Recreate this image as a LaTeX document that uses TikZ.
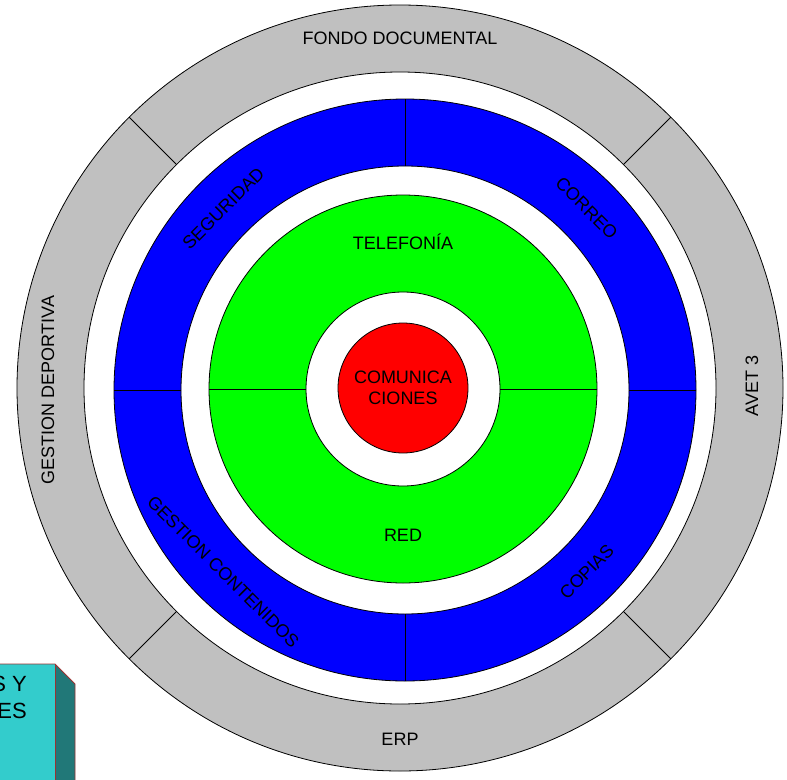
\documentclass[tikz,border=0pt]{standalone}
\usepackage{fontspec}
\setmainfont{Liberation Sans}
\usetikzlibrary{calc}
\definecolor{ringgray}{HTML}{C0C0C0}
\definecolor{ringblue}{HTML}{0000FF}
\definecolor{ringgreen}{HTML}{00FF00}
\definecolor{corered}{HTML}{FF0000}
\definecolor{boxfront}{HTML}{33CCCC}
\definecolor{boxside}{HTML}{217878}
\definecolor{boxedge}{HTML}{993333}
\tikzset{
  ringline/.style={draw=black, line width=0.8pt},
  lbl/.style={font=\fontsize{18}{21}\selectfont, inner sep=0pt, align=center},
}
\begin{document}
\begin{tikzpicture}[x=1pt,y=-1pt]
\useasboundingbox (0,0) rectangle (787,779);
\clip (0,0) rectangle (787,779);
\fill[white] (0,0) rectangle (787,779);
\coordinate (G) at (400,388);
\coordinate (B) at (405,390);
\coordinate (N) at (403,389);
\coordinate (R) at (403,388);
% gray ring
\fill[ringgray, even odd rule] (G) circle[radius=383pt] (G) circle[radius=316pt];
\draw[ringline] (G) circle[radius=383pt];
\draw[ringline] (G) circle[radius=316pt];
\foreach \a in {45,135,225,315}
  \draw[ringline] ($(G)+(\a:316pt)$) -- ($(G)+(\a:383pt)$);
% blue ring
\fill[ringblue, even odd rule] (B) circle[radius=291pt] (B) circle[radius=224pt];
\draw[ringline] (B) circle[radius=291pt];
\draw[ringline] (B) circle[radius=224pt];
\foreach \a in {0,90,180,270}
  \draw[ringline] ($(B)+(\a:224pt)$) -- ($(B)+(\a:291pt)$);
% green ring
\fill[ringgreen, even odd rule] (N) circle[radius=194pt] (N) circle[radius=97pt];
\draw[ringline] (N) circle[radius=194pt];
\draw[ringline] (N) circle[radius=97pt];
\foreach \a in {0,180}
  \draw[ringline] ($(N)+(\a:97pt)$) -- ($(N)+(\a:194pt)$);
% red core
\fill[corered] (R) circle[radius=65pt];
\draw[ringline] (R) circle[radius=65pt];
% labels
\node[lbl] (core) at (403,388) {COMUNICA\\CIONES};
\node[lbl] (tel) at (403,242) {TELEFONÍA};
\node[lbl] (red) at (403,535) {RED};
\node[lbl, rotate=45] (seg) at ($(B)+(135:257pt)$) {SEGURIDAD};
\node[lbl, rotate=-45] (cor) at ($(B)+(45:257pt)$) {CORREO};
\node[lbl, rotate=45] (cop) at ($(B)+(-45:257pt)$) {COPIAS};
\node[lbl, rotate=-45] (gc) at ($(B)+(-135:257pt)$) {GESTION CONTENIDOS};
\node[lbl] (fondo) at (400,38) {FONDO DOCUMENTAL};
\node[lbl] (erp) at (400,739) {ERP};
\node[lbl, rotate=90] (gd) at (48,390) {GESTION DEPORTIVA};
\node[lbl, rotate=90] (avet) at (752,386) {AVET 3};
% cut-off box at lower left
\fill[boxside] (55,664) -- (75,684) -- (75,790) -- (55,790) -- cycle;
\fill[boxfront] (-10,664) rectangle (55,790);
\draw[boxedge, line width=0.8pt] (-10,664) -- (55,664) -- (75,684) -- (75,790);
\draw[boxedge, line width=0.8pt] (55,664) -- (55,790);
\node[lbl, font=\fontsize{22}{27}\selectfont, anchor=east, align=right] (boxtxt) at (27,697) {S Y\\ES};
\end{tikzpicture}
\end{document}
